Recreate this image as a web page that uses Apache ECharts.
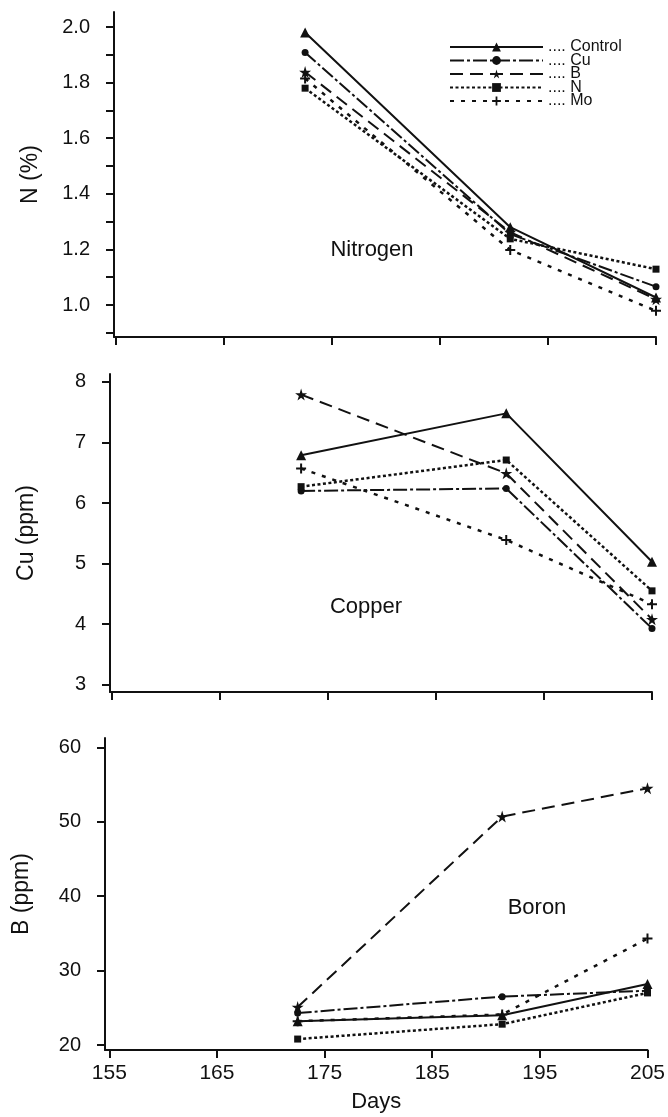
<!DOCTYPE html>
<html>
<head>
<meta charset="utf-8">
<script src="https://cdn.jsdelivr.net/npm/echarts@6/dist/echarts.min.js"></script>
<style>
  html, body { margin: 0; background: #fff; }
  #chart { width: 668px; height: 1117px; }
</style>
</head>
<body>
<div id="chart"></div>
<script>
// sampling days
const days = [172.5, 191.5, 205]
const treatments = ['Control', 'Cu', 'B', 'N', 'Mo']

// Nitrogen (%)
const nControl = [1.98, 1.28, 1.027]
const nCu = [1.908, 1.255, 1.066]
const nB = [1.838, 1.262, 1.021]
const nN = [1.78, 1.238, 1.129]
const nMo = [1.815, 1.198, 0.979]

// Copper (ppm)
const cuControl = [6.79, 7.48, 5.03]
const cuCu = [6.2, 6.24, 3.93]
const cuB = [7.79, 6.49, 4.08]
const cuN = [6.27, 6.71, 4.55]
const cuMo = [6.57, 5.39, 4.33]

// Boron (ppm)
const bControl = [23.2, 24.0, 28.2]
const bCu = [24.3, 26.5, 27.3]
const bB = [25.1, 50.7, 54.5]
const bN = [20.8, 22.8, 27.0]
const bMo = [23.2, 24.1, 34.3]

// tick values
const dayTicks = [155, 165, 175, 185, 195, 205]
const nTicks = [0.9, 1.0, 1.1, 1.2, 1.3, 1.4, 1.5, 1.6, 1.7, 1.8, 1.9, 2.0]
const nLabels = [1.0, 1.2, 1.4, 1.6, 1.8, 2.0]
const cuTicks = [3, 4, 5, 6, 7, 8]
const bTicks = [20, 30, 40, 50, 60]

const FONT = '"Liberation Sans", Arial, sans-serif'
const INK = '#111'

const starPath = 'path://M50,0 L61,35 L98,35 L68,57 L79,91 L50,70 L21,91 L32,57 L2,35 L39,35 Z'
const plusPath = 'path://M40,0 L60,0 L60,40 L100,40 L100,60 L60,60 L60,100 L40,100 L40,60 L0,60 L0,40 L40,40 Z'

const lineLook = {
  Control: { symbol: 'triangle', size: 10, type: 'solid', width: 2 },
  Cu: { symbol: 'circle', size: 7, type: [14, 3, 3, 3], width: 2 },
  B: { symbol: starPath, size: 12, type: [13, 7], width: 2 },
  N: { symbol: 'rect', size: 7, type: [3, 2.5], width: 2.5 },
  Mo: { symbol: plusPath, size: 10, type: [4, 7], width: 2.5 }
}

const panels = [
  { values: [nControl, nCu, nB, nN, nMo] },
  { values: [cuControl, cuCu, cuB, cuN, cuMo] },
  { values: [bControl, bCu, bB, bN, bMo] }
]

const buildSeries = () => {
  const out = []
  panels.forEach((panel, p) => {
    panel.values.forEach((vals, i) => {
      const name = treatments[i]
      const look = lineLook[name]
      out.push({
        name,
        type: 'line',
        xAxisIndex: p,
        yAxisIndex: p,
        clip: false,
        symbol: look.symbol,
        symbolSize: look.size,
        showAllSymbol: true,
        itemStyle: { color: INK },
        lineStyle: { color: INK, width: look.width, type: look.type },
        z: 2 + i,
        data: days.map((d, k) => [d, vals[k]])
      })
    })
  })
  return out
}

const axisLine = { show: true, onZero: false, lineStyle: { color: INK, width: 2 } }
const axisTick = (vals) => ({ show: true, inside: false, length: 8, customValues: vals, lineStyle: { color: INK, width: 2 } })

const makeX = (idx, min, showLabel) => ({
  type: 'value',
  gridIndex: idx,
  min,
  max: 205,
  axisLine,
  axisTick: axisTick(dayTicks),
  axisLabel: showLabel
    ? { show: true, customValues: dayTicks, margin: 13, fontSize: 21, color: INK, fontFamily: FONT }
    : { show: false },
  splitLine: { show: false },
  name: showLabel ? 'Days' : '',
  nameLocation: 'middle',
  nameGap: 41,
  nameTextStyle: { fontSize: 22, color: INK, fontFamily: FONT }
})

const makeY = (idx, min, max, ticks, labels, name, fmt) => ({
  type: 'value',
  gridIndex: idx,
  min,
  max,
  axisLine,
  axisTick: axisTick(ticks),
  axisLabel: { show: true, customValues: labels, margin: 24, fontSize: 20, color: INK, fontFamily: FONT, formatter: fmt },
  splitLine: { show: false },
  name,
  nameLocation: 'middle',
  nameGap: 72,
  nameTextStyle: { fontSize: 23, color: INK, fontFamily: FONT }
})

const chart = echarts.init(document.getElementById('chart'), null, { renderer: 'canvas' })

chart.setOption({
  backgroundColor: '#fff',
  animation: false,
  textStyle: { fontFamily: FONT, color: INK },
  grid: [
    { left: 114, right: 12, top: 12, height: 325 },
    { left: 110, right: 16, top: 374, height: 318 },
    { left: 105, right: 20, top: 738, height: 312 }
  ],
  legend: {
    data: treatments,
    orient: 'vertical',
    left: 444,
    top: 34,
    padding: 5,
    itemWidth: 93,
    itemHeight: 11,
    itemGap: -2.5,
    formatter: (n) => '.... ' + n,
    textStyle: { fontSize: 16, color: INK, fontFamily: FONT }
  },
  xAxis: [
    makeX(0, 154.8, false),
    makeX(1, 154.8, false),
    makeX(2, 154.6, true)
  ],
  yAxis: [
    makeY(0, 0.885, 2.054, nTicks, nLabels, 'N (%)', (v) => v.toFixed(1)),
    makeY(1, 2.88, 8.13, cuTicks, cuTicks, 'Cu (ppm)', (v) => String(v)),
    makeY(2, 19.33, 61.25, bTicks, bTicks, 'B (ppm)', (v) => String(v))
  ],
  graphic: [
    { type: 'text', x: 372, y: 250, style: { text: 'Nitrogen', font: '22px ' + FONT, fill: INK, align: 'center', verticalAlign: 'middle' } },
    { type: 'text', x: 366, y: 607, style: { text: 'Copper', font: '22px ' + FONT, fill: INK, align: 'center', verticalAlign: 'middle' } },
    { type: 'text', x: 537, y: 908, style: { text: 'Boron', font: '22px ' + FONT, fill: INK, align: 'center', verticalAlign: 'middle' } }
  ],
  series: buildSeries()
})

window.addEventListener('resize', () => chart.resize())
</script>
</body>
</html>
